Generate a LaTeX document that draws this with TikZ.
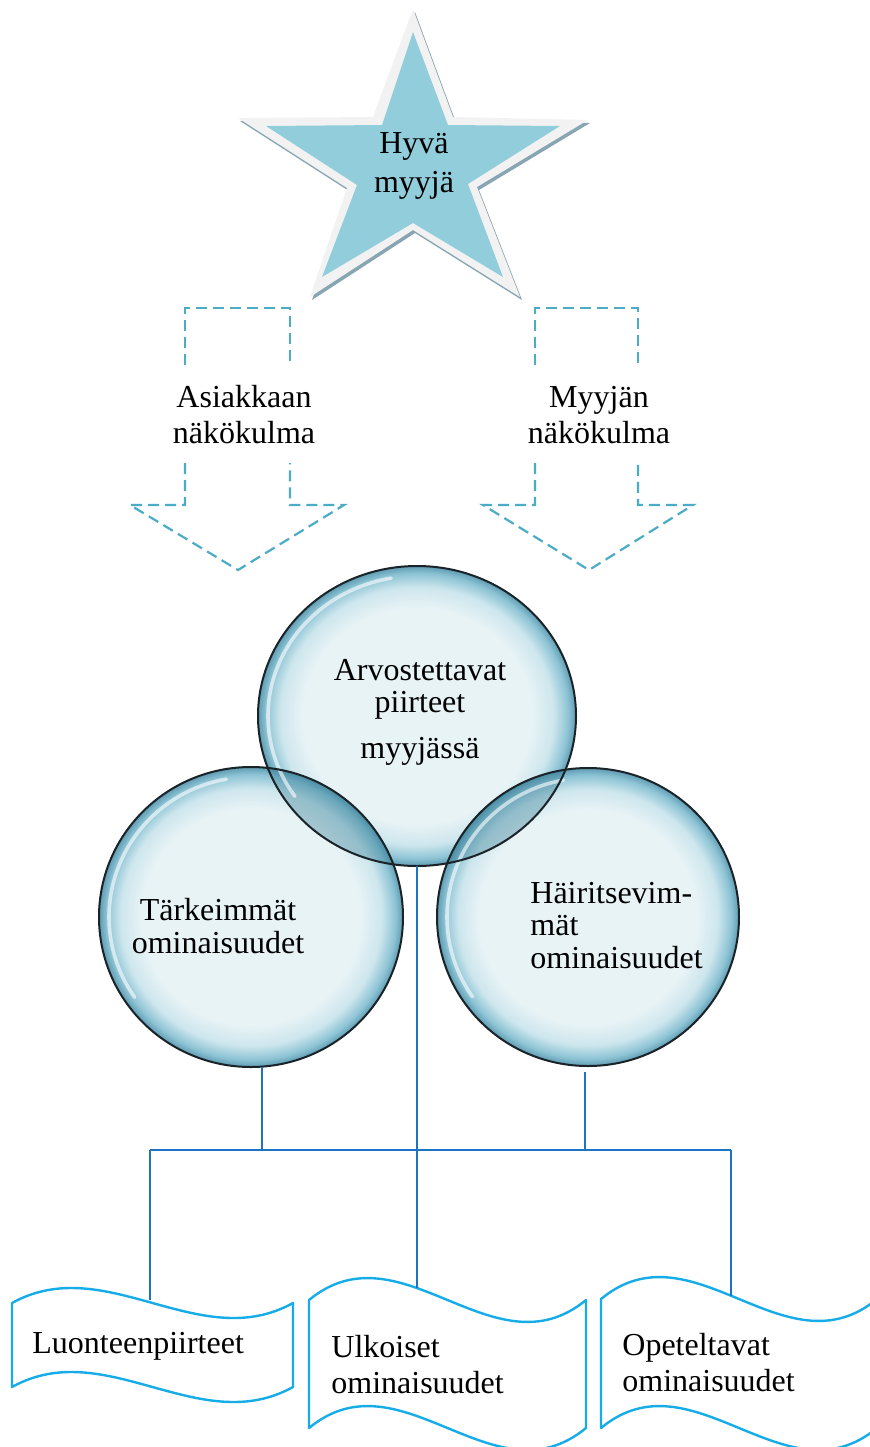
\documentclass[tikz,border=0pt]{standalone}
\usepackage{fontspec}
\setmainfont{Liberation Serif}
\usetikzlibrary{shapes.geometric}
\definecolor{starblue}{RGB}{146,205,220}
\definecolor{starrim}{RGB}{242,242,242}
\definecolor{starshadow}{RGB}{135,165,178}
\definecolor{dashblue}{RGB}{75,172,198}
\definecolor{linkblue}{RGB}{28,117,196}
\definecolor{wavecyan}{RGB}{22,172,232}
\definecolor{rimdark}{RGB}{25,35,40}
\definecolor{glassC}{RGB}{232,243,246}
\definecolor{glassM}{RGB}{205,230,237}
\definecolor{glassE}{RGB}{140,195,212}
\definecolor{glassR}{RGB}{95,155,178}
\definecolor{lensc}{RGB}{40,115,140}
\pgfdeclareradialshading{glass}{\pgfpoint{0bp}{0bp}}{color(0bp)=(glassC); color(18bp)=(glassC); color(21.5bp)=(glassM); color(23.8bp)=(glassE); color(25bp)=(glassR); color(50bp)=(glassR)}
\newcommand\tlines[3]{\fontsize{16}{#2}\selectfont\begin{tabular}[t]{@{}#1@{}}#3\end{tabular}}
\tikzset{
  txt/.style={inner sep=0pt, text=black},
  glassc/.style={ellipse, inner sep=0pt, shade, shading=glass, draw=none},
  rimline/.style={draw=rimdark, line width=1pt},
  glint/.style={draw=white, draw opacity=0.6, line width=1.8pt, line cap=round},
  lens/.style={fill=lensc, fill opacity=0.35},
  dasharrow/.style={draw=dashblue, line width=1.1pt, dash pattern=on 5.5pt off 3pt},
  link/.style={draw=linkblue, line width=1pt},
  wavebox/.style={draw=wavecyan, line width=1.2pt, fill=white, line join=round}
}
\begin{document}
\begin{tikzpicture}[x=0.5pt, y=-0.5pt]
\useasboundingbox (0,0) rectangle (870,1447);
\clip (0,0) rectangle (870,1447);
\fill[white] (0,0) rectangle (870,1447);

% star
\fill[starshadow] ([shift={(2,3)}]413,9) -- ([shift={(2,3)}]453,117) -- ([shift={(2,3)}]588,120) -- ([shift={(2,3)}]477,187) -- ([shift={(2,3)}]520,297) -- ([shift={(2,3)}]413,230) -- ([shift={(2,3)}]310,297) -- ([shift={(2,3)}]347,188) -- ([shift={(2,3)}]238,118) -- ([shift={(2,3)}]373,117) -- cycle;
\fill[starrim] (413,9) -- (453,117) -- (588,120) -- (477,187) -- (520,297) -- (413,230) -- (310,297) -- (347,188) -- (238,118) -- (373,117) -- cycle;
\fill[starblue] (413,32) -- (448,125) -- (560,126) -- (468,184) -- (503,277) -- (413,223) -- (322,277) -- (357,185) -- (266,126) -- (382,125) -- cycle;
\node[txt, anchor=base] (star) at (414,153) {\tlines{c}{19.5pt}{Hyvä\\myyjä}};

% dashed arrows
\draw[dasharrow] (185,365) -- (185,308) -- (290,308) -- (290,365);
\draw[dasharrow] (185,463) -- (185,505) -- (130,505) -- (238,570) -- (344,505) -- (290,505) -- (290,463);
\draw[dasharrow] (535,365) -- (535,308) -- (638,308) -- (638,365);
\draw[dasharrow] (535,463) -- (535,505) -- (483,505) -- (589,570) -- (693,505) -- (638,505) -- (638,463);
\node[txt, anchor=base] (asiakas) at (244,407) {\tlines{c}{18pt}{Asiakkaan\\näkökulma}};
\node[txt, anchor=base] (myyja) at (599,407) {\tlines{c}{18pt}{Myyjän\\näkökulma}};

% circles
\node[glassc, minimum width=159pt, minimum height=150pt] (ctop) at (417,716) {};
\node[glassc, minimum width=152pt, minimum height=150pt] (cleft) at (251,917) {};
\node[glassc, minimum width=151pt, minimum height=149pt] (cright) at (588,917) {};
\begin{scope}
  \clip (ctop.center) ellipse [x radius=79.5pt, y radius=75pt];
  \fill[lens] (cleft.center) ellipse [x radius=76pt, y radius=75pt];
  \fill[lens] (cright.center) ellipse [x radius=75.5pt, y radius=74.5pt];
\end{scope}
\draw[glint] ([shift={(100:74.5pt and 70pt)}]ctop.center) arc [start angle=100, end angle=215, x radius=74.5pt, y radius=70pt];
\draw[glint] ([shift={(100:71pt and 70pt)}]cleft.center) arc [start angle=100, end angle=215, x radius=71pt, y radius=70pt];
\draw[glint] ([shift={(100:70.5pt and 69.5pt)}]cright.center) arc [start angle=100, end angle=215, x radius=70.5pt, y radius=69.5pt];
\draw[rimline] (ctop.center) ellipse [x radius=79.5pt, y radius=75pt];
\draw[rimline] (cleft.center) ellipse [x radius=76pt, y radius=75pt];
\draw[rimline] (cright.center) ellipse [x radius=75.5pt, y radius=74.5pt];
\node[txt, anchor=base] (arvo) at (420,680) {\tlines{c}{16pt}{Arvostettavat\\piirteet\\[7pt]myyjässä}};
\node[txt, anchor=base] (tark) at (218,920) {\tlines{c}{16.5pt}{Tärkeimmät\\ominaisuudet}};
\node[txt, anchor=base west] (hair) at (530,903) {\tlines{l}{16.25pt}{Häiritsevim-\\mät\\ominaisuudet}};

% wave boxes
\draw[wavebox] (12,1303) .. controls (105.7,1251) and (199.3,1355) .. (293,1303) -- (293,1387) .. controls (199.3,1439) and (105.7,1335) .. (12,1387) -- cycle;
\draw[wavebox] (309,1300) .. controls (401.3,1224) and (493.7,1376) .. (586,1300) -- (586,1428) .. controls (493.7,1504) and (401.3,1352) .. (309,1428) -- cycle;
\draw[wavebox] (601,1299) .. controls (693,1223) and (785,1375) .. (877,1299) -- (877,1428) .. controls (785,1504) and (693,1352) .. (601,1428) -- cycle;
\node[txt, anchor=base west] (luonne) at (32,1353) {\tlines{l}{18pt}{Luonteenpiirteet}};
\node[txt, anchor=base west] (ulko) at (331,1357) {\tlines{l}{18pt}{Ulkoiset\\ominaisuudet}};
\node[txt, anchor=base west] (opet) at (622,1355) {\tlines{l}{18pt}{Opeteltavat\\ominaisuudet}};

% connectors
\coordinate (jL) at (262,1150);
\coordinate (jR) at (585,1150);
\coordinate (busL) at (150,1150);
\coordinate (busR) at (731,1150);
\coordinate (b1in) at (150,1300);
\coordinate (b2in) at (417,1288);
\coordinate (b3in) at (731,1296);
\draw[link] (jL |- cleft.south) -- (jL);
\draw[link] ([yshift=-3pt]cright.south -| jR) -- (jR);
\draw[link] (ctop.south) -- (b2in);
\draw[link] (busL) -- (busR);
\draw[link] (busL) -- (b1in);
\draw[link] (busR) -- (b3in);
\end{tikzpicture}
\end{document}
